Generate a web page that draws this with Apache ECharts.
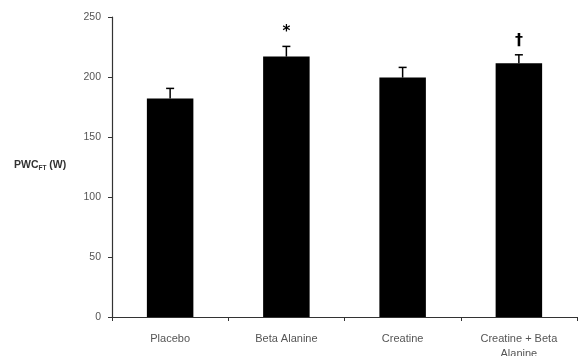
<!DOCTYPE html>
<html>
<head>
<meta charset="utf-8">
<script src="https://cdn.jsdelivr.net/npm/echarts@6/dist/echarts.min.js"></script>
<style>html,body{margin:0;padding:0;background:#fff}#c{width:580px;height:356px}</style>
</head>
<body>
<div id="c"></div>
<script>
var categories = ['Placebo', 'Beta Alanine', 'Creatine', 'Creatine + Beta\nAlanine'];
var means = [182, 217, 199.5, 211.5];
var errors = [8.5, 8.5, 8.5, 7];
var marks = ['', '*', '', '\u2020'];
var yTicks = [0, 50, 100, 150, 200, 250];

var chart = echarts.init(document.getElementById('c'));
var errData = means.map(function (m, i) { return [i, m, m + errors[i], marks[i]]; });

chart.setOption({
  animation: false,
  grid: { left: 112, right: 3, top: 17, bottom: 39, containLabel: false, outerBoundsMode: 'none' },
  xAxis: {
    type: 'category',
    data: categories,
    axisLine: { lineStyle: { color: '#333', width: 1.2 } },
    axisTick: { show: true, length: 4, lineStyle: { color: '#333' } },
    axisLabel: { color: '#555', fontSize: 11, fontFamily: 'Liberation Sans', margin: 14, lineHeight: 15 }
  },
  yAxis: {
    type: 'value',
    min: yTicks[0],
    max: yTicks[yTicks.length - 1],
    interval: 50,
    splitLine: { show: false },
    axisLine: { show: true, lineStyle: { color: '#333', width: 1.2 } },
    axisTick: { show: true, length: 4, lineStyle: { color: '#333' } },
    axisLabel: { color: '#555', fontSize: 10.5, fontFamily: 'Liberation Sans', margin: 11 }
  },
  graphic: [{
    type: 'text',
    left: 14,
    top: 160,
    style: {
      text: '{b|PWC}{s|FT}{b| (W)}',
      rich: {
        b: { fontSize: 10.5, fontWeight: 'bold', fill: '#333', fontFamily: 'Liberation Sans' },
        s: { fontSize: 6.5, fontWeight: 'bold', fill: '#333', fontFamily: 'Liberation Sans', padding: [6, 0, 0, 0] }
      }
    }
  }],
  series: [{
    type: 'bar',
    data: means,
    barWidth: '40%',
    itemStyle: { color: '#000' }
  }, {
    type: 'custom',
    data: errData,
    z: 5,
    renderItem: function (params, api) {
      var x = api.value(0);
      var lo = api.coord([x, api.value(1)]);
      var hi = api.coord([x, api.value(2)]);
      var hw = 4;
      var children = [
        { type: 'line', shape: { x1: lo[0], y1: lo[1], x2: hi[0], y2: hi[1] }, style: { stroke: '#000', lineWidth: 1.5 } },
        { type: 'line', shape: { x1: hi[0] - hw, y1: hi[1], x2: hi[0] + hw, y2: hi[1] }, style: { stroke: '#000', lineWidth: 1.5 } }
      ];
      var t = api.value(3);
      if (t) {
        children.push({
          type: 'text',
          style: {
            text: t, x: hi[0], y: hi[1] - 14, align: 'center', verticalAlign: 'middle',
            fontSize: t === '*' ? 15 : 16, fontWeight: 'bold', fill: '#000', fontFamily: 'DejaVu Sans'
          }
        });
      }
      return { type: 'group', children: children };
    }
  }]
});
</script>
</body>
</html>
